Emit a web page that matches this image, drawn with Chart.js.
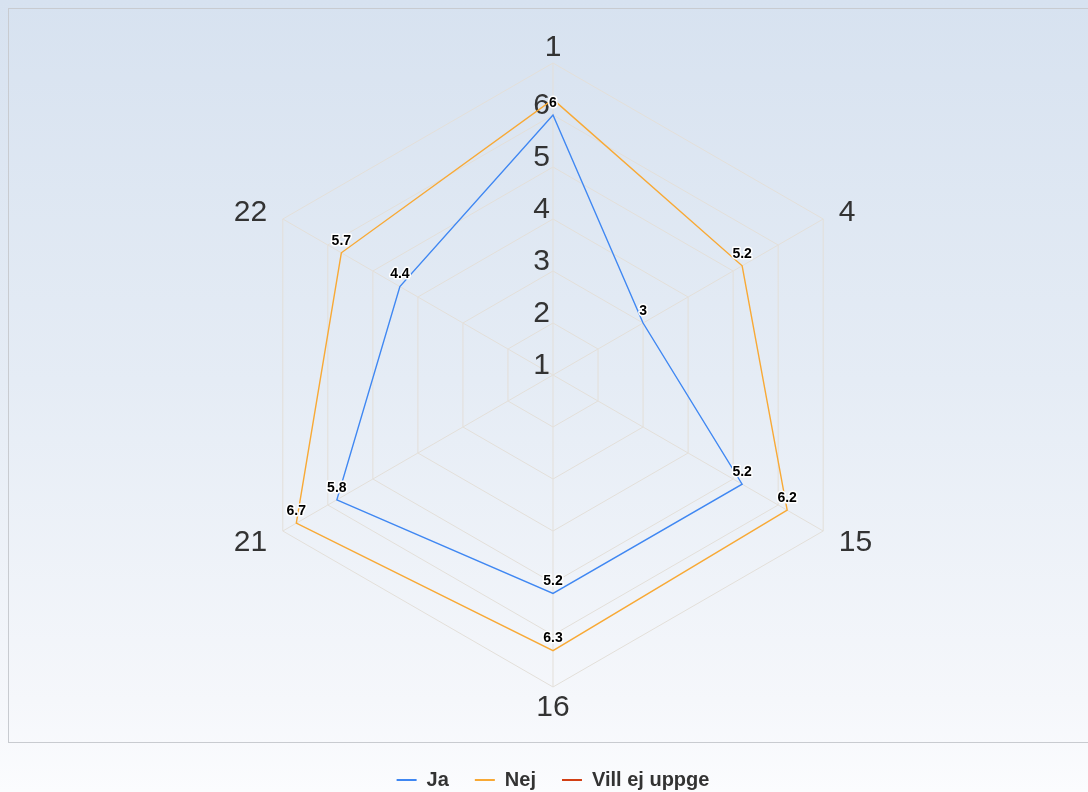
<!DOCTYPE html>
<html>
<head>
<meta charset="utf-8">
<script src="https://cdn.jsdelivr.net/npm/chart.js@4.4.1/dist/chart.umd.min.js"></script>
<style>
  html, body { margin: 0; padding: 0; overflow: hidden; }
  body {
    width: 1088px; height: 792px;
    background: linear-gradient(to bottom, #d7e2f0 0px, #e5ecf5 380px, #f5f7fb 700px, #fbfcfe 792px);
  }
  #frame {
    position: absolute; left: 8px; top: 8px; width: 1100px; height: 735px;
    border: 1px solid #c8cbd0; box-sizing: border-box;
  }
  #wrap { position: absolute; left: 0; top: 0; width: 1088px; height: 800px; }
</style>
</head>
<body>
<div id="frame"></div>
<div id="wrap"><canvas id="chart"></canvas></div>
<script>
// values
const categories = ['1', '4', '15', '16', '21', '22'];
const jaValues = [6, 3, 5.2, 5.2, 5.8, 4.4];
const nejValues = [6.3, 5.2, 6.2, 6.3, 6.7, 5.7];
const villEjValues = [];
const scaleMin = 1;
const scaleMax = 7;

const FONT = '"Liberation Sans", Arial, sans-serif';
Chart.defaults.font.family = FONT;

// tick labels sit on top of their ring, point labels just outside the outer ring
const axisTextPlugin = {
  id: 'axisText',
  beforeDatasetsDraw(chart) {
    const scale = chart.scales.r;
    const ctx = chart.ctx;
    ctx.save();
    ctx.font = '30px ' + FONT;
    ctx.fillStyle = '#333333';

    ctx.textAlign = 'right';
    ctx.textBaseline = 'alphabetic';
    scale.ticks.forEach(t => {
      if (t.value >= scale.max) return;
      const p = scale.getPointPositionForValue(0, t.value);
      ctx.fillText(String(t.value), p.x - 3, p.y - 1);
    });

    ctx.textBaseline = 'middle';
    chart.data.labels.forEach((lab, i) => {
      const p = scale.getPointPosition(i, scale.drawingArea + 18);
      const s = Math.sin(scale.getIndexAngle(i));
      ctx.textAlign = Math.abs(s) < 0.1 ? 'center' : (s > 0 ? 'left' : 'right');
      ctx.fillText(lab, p.x, p.y + 3);
    });
    ctx.restore();
  }
};

// value labels above each point, skipping ones that would collide
const valueLabelPlugin = {
  id: 'valueLabels',
  afterDatasetsDraw(chart) {
    const ctx = chart.ctx;
    const placed = [];
    ctx.save();
    ctx.font = 'bold 14px ' + FONT;
    ctx.textAlign = 'center';
    ctx.textBaseline = 'middle';
    ctx.lineJoin = 'round';
    ctx.lineWidth = 3;
    ctx.strokeStyle = '#ffffff';
    ctx.fillStyle = '#000000';
    chart.data.datasets.forEach((ds, di) => {
      const meta = chart.getDatasetMeta(di);
      if (meta.hidden) return;
      meta.data.forEach((el, i) => {
        const v = ds.data[i];
        if (v == null) return;
        const text = String(v);
        const w = ctx.measureText(text).width;
        const x = el.x, y = el.y - 12;
        const box = { l: x - w / 2 - 3, r: x + w / 2 + 3, t: y - 10, b: y + 10 };
        if (placed.some(b => b.l < box.r && box.l < b.r && b.t < box.b && box.t < b.b)) return;
        placed.push(box);
        ctx.strokeText(text, x, y);
        ctx.fillText(text, x, y);
      });
    });
    ctx.restore();
  }
};

new Chart(document.getElementById('chart'), {
  type: 'radar',
  data: {
    labels: categories,
    datasets: [
      { label: 'Ja', data: jaValues, borderColor: '#3f87f2', backgroundColor: 'transparent' },
      { label: 'Nej', data: nejValues, borderColor: '#f8a935', backgroundColor: 'transparent' },
      { label: 'Vill ej uppge', data: villEjValues, borderColor: '#d23f14', backgroundColor: 'transparent' }
    ]
  },
  options: {
    responsive: true,
    maintainAspectRatio: false,
    animation: false,
    layout: { padding: { top: 63, left: 18, right: 0, bottom: 0 } },
    elements: {
      line: { borderWidth: 1.4, tension: 0, fill: false },
      point: { radius: 0, hoverRadius: 0 }
    },
    scales: {
      r: {
        min: scaleMin,
        max: scaleMax,
        ticks: { display: false, stepSize: 1 },
        grid: { color: '#e3dfd9', lineWidth: 1 },
        angleLines: { color: '#e3dfd9', lineWidth: 1 },
        pointLabels: { display: false }
      }
    },
    plugins: {
      tooltip: { enabled: false },
      legend: {
        position: 'bottom',
        title: { display: true, text: '', padding: { top: 0, bottom: 41.6 }, font: { size: 12 } },
        labels: {
          usePointStyle: true,
          pointStyle: 'line',
          pointStyleWidth: 20,
          boxWidth: 20,
          boxHeight: 20,
          padding: 26,
          color: '#333333',
          font: { size: 20, weight: 'bold' },
          generateLabels(chart) {
            return Chart.defaults.plugins.legend.labels.generateLabels(chart)
              .map(item => Object.assign(item, { lineWidth: 2 }));
          }
        }
      }
    }
  },
  plugins: [axisTextPlugin, valueLabelPlugin]
});
</script>
</body>
</html>
